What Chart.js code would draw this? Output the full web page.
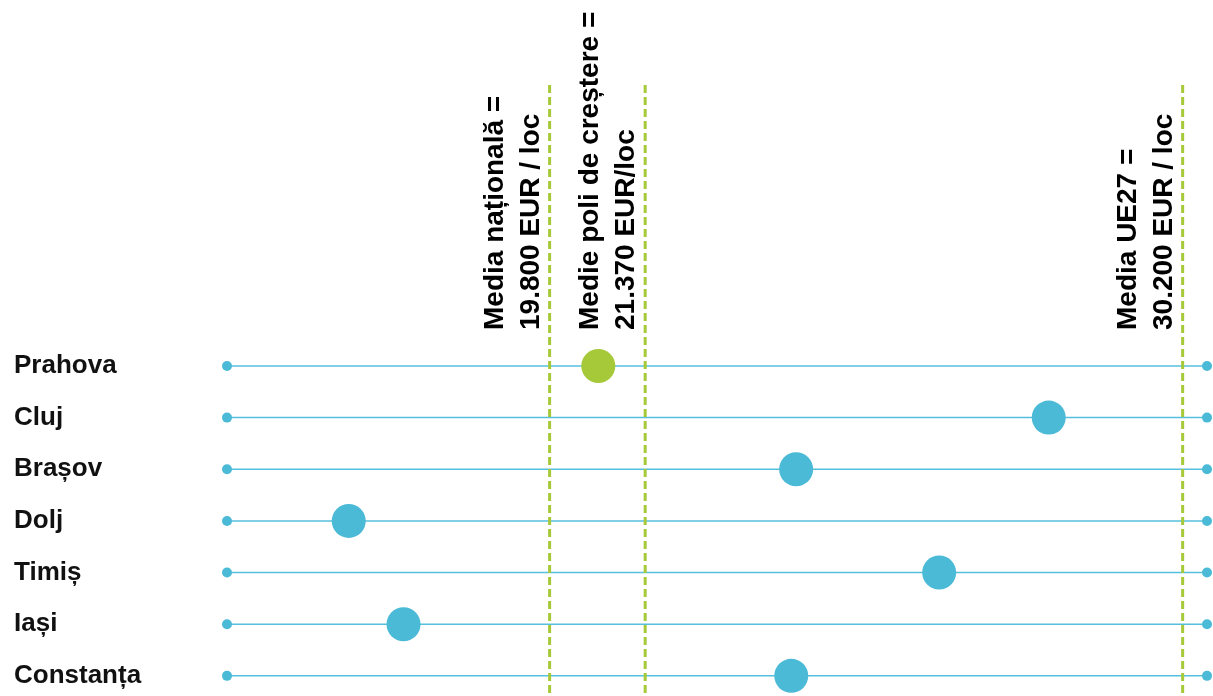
<!DOCTYPE html>
<html>
<head>
<meta charset="utf-8">
<script src="https://cdn.jsdelivr.net/npm/chart.js@4"></script>
<style>
    body { margin: 0; background: #fff; }
    #wrap { width: 1213px; height: 696px; position: relative; }
</style>
</head>
<body>
<div id="wrap"><canvas id="dot-chart"></canvas></div>
<script>
/* DATA */
const counties = ["Prahova", "Cluj", "Brașov", "Dolj", "Timiș", "Iași", "Constanța"];
const gdpPerHead = [20600, 28000, 23850, 16500, 26200, 17400, 23770];
const refValues = [19800, 21370, 30200];
const refLabels = [
    ["Media națională =", "19.800 EUR / loc"],
    ["Medie poli de creștere =", "21.370 EUR/loc"],
    ["Media UE27 =", "30.200 EUR / loc"]
];
const xMin = 14500;
const xMax = 30600;

const blue = "#4bbad7";
const green = "#a6c93a";
const yTop = -5.44;
const yBottom = 6.39;

const datasets = [];

// big dots (drawn on top)
datasets.push({
    type: "scatter",
    order: 0,
    data: counties.map((c, i) => ({ x: gdpPerHead[i], y: i })),
    pointRadius: 17,
    pointBackgroundColor: counties.map(c => c === "Prahova" ? green : blue),
    pointBorderWidth: 0,
    clip: false
});

// vertical dashed reference lines
for (const v of refValues) {
    datasets.push({
        type: "line",
        order: 1,
        data: [{ x: v, y: yTop }, { x: v, y: yBottom }],
        borderColor: green,
        borderWidth: 3,
        borderDash: [8, 4],
        pointRadius: 0,
        clip: false
    });
}

// thin row lines with end dots
counties.forEach((c, i) => {
    datasets.push({
        type: "line",
        order: 2,
        data: [{ x: xMin, y: i }, { x: xMax, y: i }],
        borderColor: "#56bfdd",
        borderWidth: 1.5,
        pointRadius: 5,
        pointBackgroundColor: blue,
        pointBorderWidth: 0,
        clip: false
    });
});

// rotated labels for the reference lines
const refText = {
    id: "refText",
    afterDraw(chart) {
        const ctx = chart.ctx;
        const xs = chart.scales.x;
        ctx.save();
        ctx.fillStyle = "#000";
        ctx.font = "bold 28px 'Liberation Sans', Arial, sans-serif";
        ctx.textAlign = "left";
        ctx.textBaseline = "alphabetic";
        refValues.forEach((v, i) => {
            const px = xs.getPixelForValue(v);
            const offs = [47, 11];
            refLabels[i].forEach((line, j) => {
                ctx.save();
                ctx.translate(px - offs[j], 330);
                ctx.rotate(-Math.PI / 2);
                ctx.fillText(line, 0, 0);
                ctx.restore();
            });
        });
        ctx.restore();
    }
};

const noPad = axis => {
    axis.paddingTop = 0;
    axis.paddingBottom = 0;
    axis.paddingLeft = 0;
    axis.paddingRight = 0;
};

new Chart(document.getElementById("dot-chart"), {
    data: { datasets: datasets },
    options: {
        responsive: true,
        maintainAspectRatio: false,
        animation: false,
        layout: { autoPadding: false, padding: { left: 14, right: 6, top: 85, bottom: 0 } },
        plugins: {
            legend: { display: false },
            tooltip: { enabled: false }
        },
        scales: {
            x: {
                type: "linear",
                min: xMin,
                max: xMax,
                display: false,
                afterFit: noPad
            },
            y: {
                type: "linear",
                reverse: true,
                min: yTop,
                max: yBottom,
                grid: { display: false },
                border: { display: false },
                afterBuildTicks: axis => {
                    axis.ticks = counties.map((c, i) => ({ value: i }));
                },
                afterFit: axis => {
                    noPad(axis);
                    axis.width = 213;
                },
                ticks: {
                    autoSkip: false,
                    crossAlign: "far",
                    color: "#111",
                    font: { family: "'Liberation Sans', Arial, sans-serif", size: 26, weight: "bold" },
                    callback: v => counties[v]
                }
            }
        }
    },
    plugins: [refText]
});
</script>
</body>
</html>
